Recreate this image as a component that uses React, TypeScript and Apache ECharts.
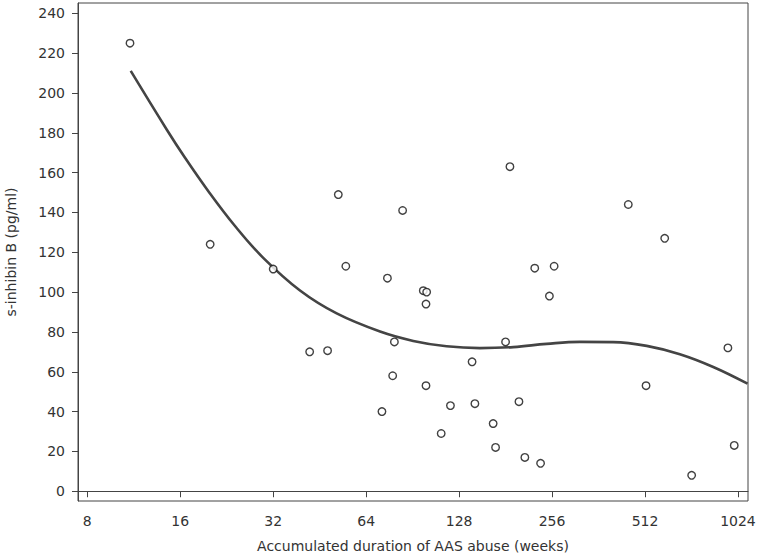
import React, { useEffect, useRef } from "react";
import * as echarts from "echarts";

// Observed data: accumulated duration (weeks) and s-inhibin B (pg/ml)
const pointWeeks = [11, 20, 32, 52, 55, 42, 48, 72, 75, 79, 78, 84, 98, 100.5, 100, 100, 112, 120, 141, 144, 165, 168, 181, 187, 200, 209, 225, 235, 251, 260, 452, 593, 516, 950, 996, 725];
const pointValues = [225, 124, 111.6, 149, 113, 70, 70.6, 40, 107, 75, 58, 141, 100.7, 100, 94, 53, 29, 43, 65, 44, 34, 22, 75, 163, 45, 17, 112, 14, 98, 113, 144, 127, 53, 72, 23, 8];

// Fitted curve
const curveWeeks = [11.06, 14.46, 16.58, 19.73, 24.07, 29.71, 39.08, 51.37, 70.98, 90.95, 116.6, 149.5, 191.7, 245.9, 315.2, 404, 518.5, 664, 851.6, 1100];
const curveValues = [211.1, 181.7, 167.5, 150.7, 133.2, 117.2, 100.8, 89.3, 80.2, 75.5, 72.8, 71.9, 72.4, 74.0, 75.0, 74.9, 73.0, 68.8, 62.4, 54.0];

// Axis ticks
const xTickWeeks = [8, 16, 32, 64, 128, 256, 512, 1024];
const yTicks = [0, 20, 40, 60, 80, 100, 120, 140, 160, 180, 200, 220, 240];

const FONT = "DejaVu Sans";
const TEXT = "#333333";
const LINE = "#444444";

export default function App() {
  const ref = useRef<HTMLDivElement>(null);
  useEffect(() => {
    if (!ref.current) return;
    const chart = echarts.init(ref.current, undefined, { renderer: "svg" });
    const lg = (w: number) => Math.log2(w);
    chart.setOption({
      animation: false,
      backgroundColor: "#ffffff",
      grid: {
        left: 78,
        right: 9,
        top: 3,
        bottom: 59,
        show: true,
        borderColor: LINE,
        borderWidth: 1,
        backgroundColor: "transparent",
        outerBoundsMode: "none",
        containLabel: false,
      },
      xAxis: {
        type: "value",
        min: 2.9,
        max: 10.108,
        name: "Accumulated duration of AAS abuse (weeks)",
        nameLocation: "middle",
        nameGap: 38,
        nameTextStyle: { fontFamily: FONT, fontSize: 14, color: TEXT },
        axisLine: { show: true, lineStyle: { color: LINE, width: 1 } },
        axisTick: {
          show: true,
          length: 6,
          lineStyle: { color: LINE },
          customValues: xTickWeeks.map(lg),
        },
        axisLabel: {
          fontFamily: FONT,
          fontSize: 14,
          color: TEXT,
          margin: 13,
          customValues: xTickWeeks.map(lg),
          formatter: (v: number) => String(Math.round(Math.pow(2, v))),
        },
        splitLine: { show: false },
      },
      yAxis: {
        type: "value",
        min: -4.9,
        max: 245.2,
        name: "s-inhibin B (pg/ml)",
        nameLocation: "middle",
        nameGap: 60,
        nameTextStyle: { fontFamily: FONT, fontSize: 14, color: TEXT },
        axisLine: { show: true, lineStyle: { color: LINE, width: 1 } },
        axisTick: {
          show: true,
          length: 6,
          lineStyle: { color: LINE },
          customValues: yTicks,
        },
        axisLabel: {
          fontFamily: FONT,
          fontSize: 14,
          color: TEXT,
          margin: 13,
          customValues: yTicks,
        },
        splitLine: { show: false },
      },
      series: [
        {
          type: "line",
          data: curveWeeks.map((w, i) => [lg(w), curveValues[i]]),
          smooth: 0.4,
          showSymbol: false,
          lineStyle: { color: "#444444", width: 2.6 },
          clip: true,
          z: 2,
        },
        {
          type: "scatter",
          data: pointWeeks.map((w, i) => [lg(w), pointValues[i]]),
          symbol: "circle",
          symbolSize: 7.5,
          itemStyle: { color: "#ffffff", borderColor: "#111111", borderWidth: 1.4 },
          z: 3,
        },
      ],
    });
    return () => chart.dispose();
  }, []);
  return (
    <div
      ref={ref}
      style={{ position: "fixed", left: 0, top: 0, width: 757, height: 560, background: "#fff" }}
    />
  );
}
